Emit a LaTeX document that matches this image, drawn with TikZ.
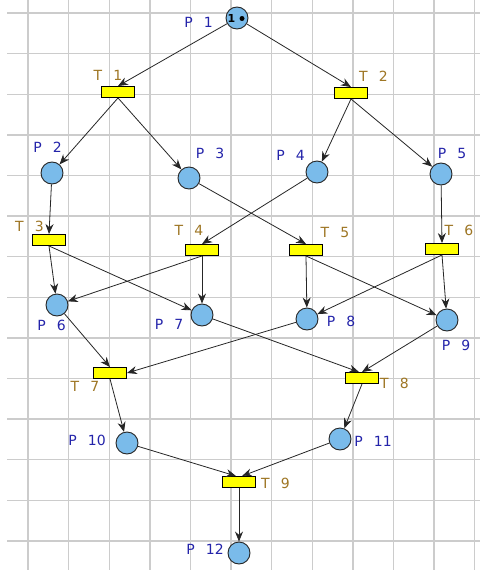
\documentclass[tikz,border=0pt]{standalone}
\usepackage{fontspec}
\setmainfont{DejaVu Sans}[WordSpace=2.5]
\usetikzlibrary{arrows.meta}
\definecolor{placefill}{RGB}{122,187,234}
\definecolor{plabelcol}{RGB}{36,36,170}
\definecolor{tlabelcol}{RGB}{158,118,36}
\definecolor{gridcol}{RGB}{204,204,204}
\definecolor{transfill}{RGB}{255,255,0}
\begin{document}
\begin{tikzpicture}[x=1pt,y=-1pt,
  gridline/.style={draw=gridcol, line width=1.4pt},
  place/.style={circle, draw=black!85, fill=placefill, minimum size=22pt, inner sep=0pt, line width=0.9pt},
  trans/.style={rectangle, draw=black, fill=transfill, minimum width=33pt, minimum height=11pt, inner sep=0pt, line width=0.9pt},
  plabel/.style={text=plabelcol, font=\fontsize{14}{14}\selectfont, inner sep=0pt},
  tlabel/.style={text=tlabelcol, font=\fontsize{14}{14}\selectfont, inner sep=0pt},
  arc/.style={-{Stealth[length=10pt,width=8pt]}, line width=0.8pt, draw=black!85}
]
\useasboundingbox (0,0) rectangle (480,570);
\fill[white] (0,0) rectangle (480,570);
% grid
\foreach \i in {0,...,11} \draw[gridline] ({28+40.6*\i},0) -- ({28+40.6*\i},570);
\foreach \j in {0,...,13} \draw[gridline] (7,{13+40.6*\j}) -- (480,{13+40.6*\j});

% places
\node[place] (P1) at (237,18) {};
\node[place] (P2) at (52,173) {};
\node[place] (P3) at (189,178) {};
\node[place] (P4) at (317,172) {};
\node[place] (P5) at (441,174) {};
\node[place] (P6) at (57,305) {};
\node[place] (P7) at (202,315) {};
\node[place] (P8) at (307,319) {};
\node[place] (P9) at (447,320) {};
\node[place] (P10) at (127,443) {};
\node[place] (P11) at (340,439) {};
\node[place] (P12) at (239,553) {};

% token
\node[inner sep=0pt, font=\bfseries\fontsize{11}{11}\selectfont] (tok) at (231.5,18.5) {1};
\fill[black] (242,18.5) circle (2.5pt);

% transitions
\node[trans] (T1) at (118,92) {};
\node[trans] (T2) at (351,93) {};
\node[trans] (T3) at (49,240) {};
\node[trans] (T4) at (202,250) {};
\node[trans] (T5) at (306,250) {};
\node[trans] (T6) at (442,249) {};
\node[trans] (T7) at (110,373) {};
\node[trans] (T8) at (362,378) {};
\node[trans] (T9) at (239,482) {};

% labels
\node[plabel] (LP1) at (198.5,22.5) {P 1};
\node[plabel] (LP2) at (47.5,147) {P 2};
\node[plabel] (LP3) at (210,153) {P 3};
\node[plabel] (LP4) at (290.5,155.5) {P 4};
\node[plabel] (LP5) at (452,153) {P 5};
\node[plabel] (LP6) at (51.5,325) {P 6};
\node[plabel] (LP7) at (169,324.5) {P 7};
\node[plabel] (LP8) at (341,321.5) {P 8};
\node[plabel] (LP9) at (456,345.5) {P 9};
\node[plabel] (LP10) at (87,440) {P 10};
\node[plabel] (LP11) at (373,441) {P 11};
\node[plabel] (LP12) at (205,549.5) {P 12};

\node[tlabel] (LT1) at (108,75.5) {T 1};
\node[tlabel] (LT2) at (373.5,76.5) {T 2};
\node[tlabel] (LT3) at (29.5,226) {T 3};
\node[tlabel] (LT4) at (189,230.5) {T 4};
\node[tlabel] (LT5) at (335,232.5) {T 5};
\node[tlabel] (LT6) at (459,230) {T 6};
\node[tlabel] (LT7) at (85,386.5) {T 7};
\node[tlabel] (LT8) at (394.5,383.5) {T 8};
\node[tlabel] (LT9) at (275.5,483.5) {T 9};

% arcs
\draw[arc] (P1) -- (T1.north);
\draw[arc] (P1) -- (T2.north);
\draw[arc] (T1.south) -- (P2);
\draw[arc] (T1.south) -- (P3);
\draw[arc] (T2.south) -- (P4);
\draw[arc] (T2.south) -- (P5);
\draw[arc] (P2) -- (T3.north);
\draw[arc] (P3) -- (T5.north);
\draw[arc] (P4) -- (T4.north);
\draw[arc] (P5) -- (T6.north);
\draw[arc] (T3.south) -- (P6);
\draw[arc] (T3.south) -- (P7);
\draw[arc] (T4.south) -- (P6);
\draw[arc] (T4.south) -- (P7);
\draw[arc] (T5.south) -- (P8);
\draw[arc] (T5.south) -- (P9);
\draw[arc] (T6.south) -- (P8);
\draw[arc] (T6.south) -- (P9);
\draw[arc] (P6) -- (T7.north);
\draw[arc] (P8) -- (T7.east);
\draw[arc] (P7) -- ([xshift=-3pt]T8.north);
\draw[arc] (P9) -- (T8.north);
\draw[arc] (T7.south) -- (P10);
\draw[arc] (T8.south) -- (P11);
\draw[arc] (P10) -- ([xshift=-3pt]T9.north);
\draw[arc] (P11) -- ([xshift=3pt]T9.north);
\draw[arc] (T9.south) -- (P12);
\end{tikzpicture}
\end{document}
